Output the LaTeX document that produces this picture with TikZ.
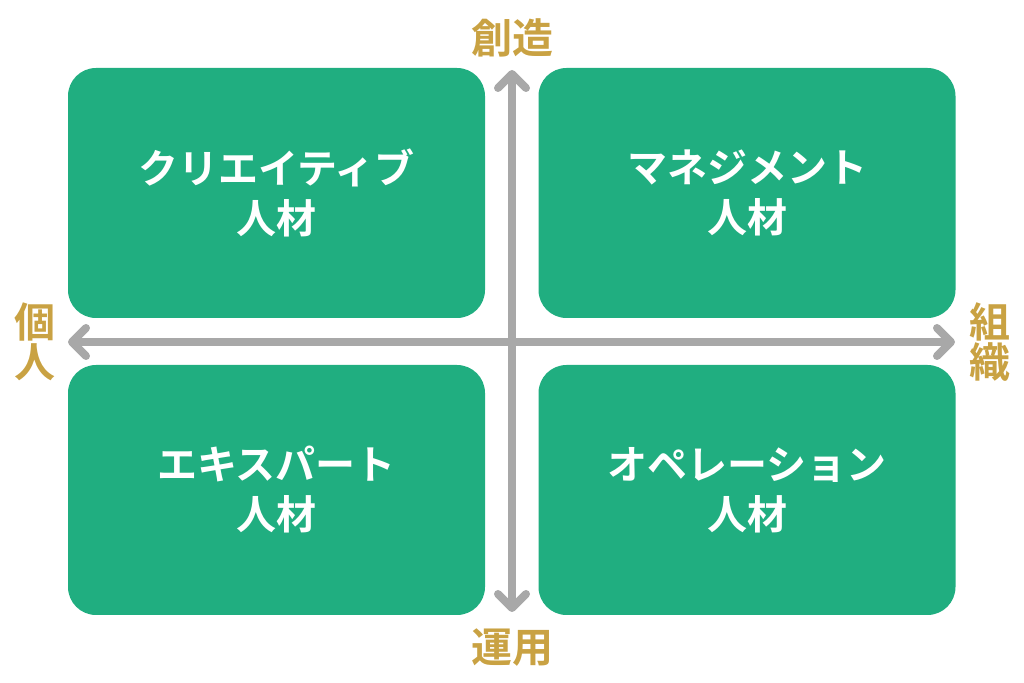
\documentclass[tikz,border=0pt]{standalone}
\usepackage{fontspec}
\usepackage{tikz}
\usetikzlibrary{arrows.meta,positioning}
\newfontfamily\jpfont{Noto Sans CJK JP}[BoldFont={Noto Sans CJK JP Bold}]
\definecolor{quadgreen}{RGB}{32,174,128}
\definecolor{axisgray}{RGB}{168,168,168}
\definecolor{labelgold}{RGB}{201,162,67}
\tikzset{
  quad/.style={rectangle,fill=quadgreen,rounded corners=14pt,minimum width=208.5pt,
    minimum height=125pt,text=white,align=center,
    font=\jpfont\bfseries\fontsize{20}{25}\selectfont},
  axis/.style={draw=axisgray,line width=4pt,line cap=round,
    {Straight Barb[round,length=7pt,width=14pt]}-{Straight Barb[round,length=7pt,width=14pt]}},
  axlabel/.style={text=labelgold,align=center,inner sep=0pt,
    font=\jpfont\bfseries\fontsize{20.5}{20}\selectfont}
}
\begin{document}
\begin{tikzpicture}[x=0.5pt,y=-0.5pt]
    \useasboundingbox (0,0) rectangle (1024,683);
    % Quadrants
    \node[quad] (creative) at (276.5,193) {\raisebox{-3pt}{クリエイティブ}\\\raisebox{-3pt}{人材}};
    \node[quad] (manage) at (747,193) {\raisebox{-3pt}{マネジメント}\\\raisebox{-3pt}{人材}};
    \node[quad] (expert) at (276.5,490) {\raisebox{-3pt}{エキスパート}\\\raisebox{-3pt}{人材}};
    \node[quad] (oper) at (747,490) {\raisebox{-3pt}{オペレーション}\\\raisebox{-3pt}{人材}};

    % Axes
    \coordinate (top) at (512,70);
    \coordinate (bottom) at (512,612);
    \coordinate (left) at (68,342);
    \coordinate (right) at (955,342);
    \draw[axis] (bottom) -- (top);
    \draw[axis] (left) -- (right);

    % Axis labels
    \node[axlabel] (create) at (512,38) {創造};
    \node[axlabel] (use) at (512,648) {運用};
    \node[axlabel] (indiv) at (35,342) {個\\人};
    \node[axlabel] (org) at (990,342) {組\\織};
\end{tikzpicture}
\end{document}
